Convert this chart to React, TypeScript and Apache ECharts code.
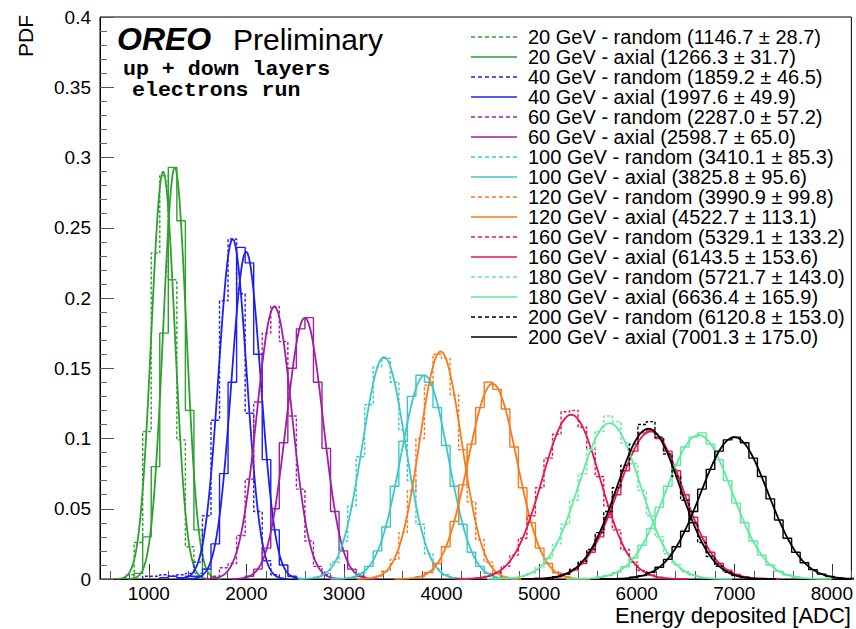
import { useEffect, useRef } from "react";
import * as echarts from "echarts";

// ---- axis / binning definition ----
const X_MIN = 500;
const X_MAX = 8200;
const BIN_WIDTH = 87.5;
const xTickValues = [1000, 2000, 3000, 4000, 5000, 6000, 7000, 8000];
const xMinorTickValues: number[] = [];
for (let v = 600; v <= 8200; v += 200) xMinorTickValues.push(v);

// ---- legend ----
const legendLabels = [
  "20 GeV - random (1146.7 ± 28.7)",
  "20 GeV - axial (1266.3 ± 31.7)",
  "40 GeV - random (1859.2 ± 46.5)",
  "40 GeV - axial (1997.6 ± 49.9)",
  "60 GeV - random (2287.0 ± 57.2)",
  "60 GeV - axial (2598.7 ± 65.0)",
  "100 GeV - random (3410.1 ± 85.3)",
  "100 GeV - axial (3825.8 ± 95.6)",
  "120 GeV - random (3990.9 ± 99.8)",
  "120 GeV - axial (4522.7 ± 113.1)",
  "160 GeV - random (5329.1 ± 133.2)",
  "160 GeV - axial (6143.5 ± 153.6)",
  "180 GeV - random (5721.7 ± 143.0)",
  "180 GeV - axial (6636.4 ± 165.9)",
  "200 GeV - random (6120.8 ± 153.0)",
  "200 GeV - axial (7001.3 ± 175.0)",
];
const colors = [
  "#2ea02e", "#2ea02e",
  "#1f1fef", "#1f1fef",
  "#a01ea4", "#a01ea4",
  "#3ec6c8", "#3ec6c8",
  "#f77a1c", "#f77a1c",
  "#e3174f", "#e3174f",
  "#5fea9c", "#5fea9c",
  "#000000", "#000000",
];
const dashed = [true, false, true, false, true, false, true, false, true, false, true, false, true, false, true, false];

// ---- histogram contents (PDF per bin), first bin index of each ----
const firstBin = [3, 4, 5, 7, 13, 17, 25, 29, 32, 37, 44, 53, 48, 58, 53, 62];
const h20Random = [0.003, 0.026, 0.105, 0.232, 0.287, 0.213, 0.099, 0.023, 0.004];
const h20Axial = [0.004, 0.03, 0.08, 0.175, 0.293, 0.255, 0.12, 0.035, 0.007, 0.001];
const h40Random = [0.002, 0.002, 0.003, 0.002, 0.003, 0.004, 0.012, 0.045, 0.113, 0.198, 0.242, 0.203, 0.118, 0.048, 0.013, 0.003];
const h40Axial = [0.001, 0.002, 0.001, 0.002, 0.002, 0.007, 0.025, 0.075, 0.14, 0.236, 0.225, 0.16, 0.085, 0.035, 0.01, 0.002];
const h60Random = [0.002, 0.008, 0.011, 0.031, 0.071, 0.126, 0.175, 0.194, 0.169, 0.116, 0.064, 0.027, 0.009, 0.003];
const h60Axial = [0.002, 0.007, 0.022, 0.05, 0.097, 0.15, 0.178, 0.186, 0.14, 0.093, 0.048, 0.02, 0.007, 0.002];
const h100Random = [0.0015, 0.004, 0.012, 0.027, 0.052, 0.087, 0.124, 0.151, 0.157, 0.14, 0.106, 0.07, 0.039, 0.018, 0.007, 0.003, 0.001];
const h100Axial = [0.001, 0.004, 0.009, 0.02, 0.037, 0.066, 0.098, 0.13, 0.145, 0.14, 0.122, 0.095, 0.066, 0.039, 0.019, 0.009, 0.004, 0.001];
const h120Random = [0.002, 0.0055, 0.014, 0.033, 0.063, 0.1, 0.138, 0.16, 0.157, 0.131, 0.092, 0.055, 0.028, 0.012, 0.0044, 0.0013];
const h120Axial = [0.0017, 0.0046, 0.011, 0.023, 0.041, 0.067, 0.096, 0.122, 0.14, 0.135, 0.121, 0.094, 0.065, 0.04, 0.022, 0.011, 0.0045, 0.0017];
const h160Random = [0.0008, 0.002, 0.0045, 0.009, 0.017, 0.029, 0.045, 0.065, 0.086, 0.103, 0.119, 0.12, 0.108, 0.093, 0.073, 0.052, 0.035, 0.021, 0.012, 0.006, 0.0028, 0.0012];
const h160Axial = [0.0016, 0.0033, 0.0063, 0.011, 0.019, 0.03, 0.044, 0.06, 0.077, 0.091, 0.104, 0.106, 0.1, 0.091, 0.077, 0.06, 0.044, 0.03, 0.019, 0.011, 0.0063, 0.0033, 0.0016];
const h180Random = [0.0009, 0.002, 0.0042, 0.0082, 0.015, 0.025, 0.039, 0.056, 0.075, 0.092, 0.105, 0.116, 0.112, 0.097, 0.082, 0.063, 0.045, 0.03, 0.018, 0.0103, 0.0053, 0.0026, 0.0012];
const h180Axial = [0.0012, 0.0025, 0.0047, 0.0087, 0.015, 0.024, 0.036, 0.051, 0.066, 0.081, 0.094, 0.101, 0.104, 0.096, 0.085, 0.07, 0.054, 0.04, 0.027, 0.017, 0.01, 0.0056, 0.0029, 0.0014];
const h200Random = [0.0017, 0.0035, 0.007, 0.0125, 0.021, 0.033, 0.048, 0.065, 0.081, 0.096, 0.11, 0.112, 0.101, 0.089, 0.073, 0.056, 0.04, 0.026, 0.016, 0.0091, 0.0048, 0.0024, 0.0011];
const h200Axial = [0.0012, 0.0024, 0.0047, 0.0084, 0.014, 0.023, 0.034, 0.048, 0.064, 0.078, 0.091, 0.099, 0.101, 0.097, 0.086, 0.073, 0.057, 0.042, 0.029, 0.019, 0.0116, 0.0067, 0.0035, 0.0018, 0.0008];
const histograms = [
  h20Random, h20Axial, h40Random, h40Axial, h60Random, h60Axial, h100Random, h100Axial,
  h120Random, h120Axial, h160Random, h160Axial, h180Random, h180Axial, h200Random, h200Axial,
];

// ---- gaussian fit parameters (mean from legend, sigma and peak) ----
const fitMean = [1146.7, 1266.3, 1859.2, 1997.6, 2287.0, 2598.7, 3410.1, 3825.8, 3990.9, 4522.7, 5329.1, 6143.5, 5721.7, 6636.4, 6120.8, 7001.3];
const fitSigma = [120, 119, 144, 150, 180, 188, 221, 241, 215, 251, 298, 332, 314, 340, 326, 345];
const fitPeak = [0.29, 0.293, 0.242, 0.233, 0.194, 0.186, 0.158, 0.145, 0.162, 0.139, 0.117, 0.105, 0.111, 0.1025, 0.107, 0.101];

const FONT = "'Liberation Sans', Arial, Helvetica, sans-serif";
const MONO = "'Liberation Mono', 'Courier New', monospace";

function histPoints(vals: number[], k0: number): number[][] {
  const pts: number[][] = [[X_MIN + k0 * BIN_WIDTH, 0]];
  vals.forEach((v, j) => {
    const lo = X_MIN + (k0 + j) * BIN_WIDTH;
    pts.push([lo, v], [lo + BIN_WIDTH, v]);
  });
  pts.push([X_MIN + (k0 + vals.length) * BIN_WIDTH, 0]);
  return pts;
}

function fitPoints(mean: number, sigma: number, peak: number): number[][] {
  const pts: number[][] = [];
  for (let i = -40; i <= 40; i++) {
    const x = mean + (i / 10) * sigma;
    const z = (x - mean) / sigma;
    pts.push([x, peak * Math.exp(-0.5 * z * z)]);
  }
  return pts;
}

export default function App() {
  const ref = useRef<HTMLDivElement>(null);
  useEffect(() => {
    if (!ref.current) return;
    const chart = echarts.init(ref.current, undefined, { renderer: "svg" });
    const series: any[] = [];
    histograms.forEach((vals, i) => {
      series.push({
        type: "line",
        name: legendLabels[i],
        data: histPoints(vals, firstBin[i]),
        symbol: "none",
        silent: true,
        z: 2,
        lineStyle: { color: colors[i], width: 1.4, type: dashed[i] ? [3, 2] : "solid" },
      });
      series.push({
        type: "line",
        name: legendLabels[i] + " fit",
        data: fitPoints(fitMean[i], fitSigma[i], fitPeak[i]),
        symbol: "none",
        silent: true,
        z: 2,
        lineStyle: { color: colors[i], width: 1.8 },
      });
    });

    const graphics: any[] = [
      {
        type: "text",
        x: 25,
        y: 15,
        rotation: Math.PI / 2,
        style: { text: "PDF", font: `21px ${FONT}`, fill: "#000", align: "right", verticalAlign: "middle" },
      },
      {
        type: "text",
        x: 117,
        y: 39,
        style: { text: "OREO", font: `italic bold 32px ${FONT}`, fill: "#000", align: "left", verticalAlign: "middle" },
      },
      {
        type: "text",
        x: 233,
        y: 39,
        style: { text: "Preliminary", font: `30px ${FONT}`, fill: "#000", align: "left", verticalAlign: "middle" },
      },
      {
        type: "text",
        x: 123,
        y: 70,
        scaleX: 1.08,
        style: { text: "up + down layers", font: `bold 20px ${MONO}`, fill: "#000", align: "left", verticalAlign: "middle" },
      },
      {
        type: "text",
        x: 132,
        y: 91,
        scaleX: 1.08,
        style: { text: "electrons run", font: `bold 20px ${MONO}`, fill: "#000", align: "left", verticalAlign: "middle" },
      },
      {
        type: "text",
        x: 851,
        y: 615,
        style: { text: "Energy deposited [ADC]", font: `22px ${FONT}`, fill: "#000", align: "right", verticalAlign: "middle" },
      },
    ];
    legendLabels.forEach((label, i) => {
      const y = 37 + i * 20;
      graphics.push({
        type: "line",
        shape: { x1: 471, y1: y, x2: 517, y2: y },
        style: { stroke: colors[i], lineWidth: 1.6, lineDash: dashed[i] ? [4, 3] : null },
      });
      graphics.push({
        type: "text",
        x: 528,
        y,
        style: { text: label, font: `20px ${FONT}`, fill: "#000", align: "left", verticalAlign: "middle" },
      });
    });

    chart.setOption({
      animation: false,
      grid: {
        left: 100,
        right: 4,
        top: 17,
        bottom: 50,
        show: true,
        borderColor: "#000",
        borderWidth: 1,
        backgroundColor: "transparent",
      },
      xAxis: [
        {
          type: "value",
          min: X_MIN,
          max: X_MAX,
          axisLine: { show: true, onZero: false, lineStyle: { color: "#000", width: 1 } },
          axisTick: { show: true, inside: true, length: 15, customValues: xTickValues, lineStyle: { color: "#333" } },
          axisLabel: {
            show: true,
            customValues: xTickValues,
            fontSize: 19,
            fontFamily: FONT,
            color: "#000",
            margin: 5,
            formatter: (v: number) => String(v),
          },
          splitLine: { show: false },
        },
        {
          type: "value",
          min: X_MIN,
          max: X_MAX,
          position: "bottom",
          axisLine: { show: false },
          axisTick: { show: true, inside: true, length: 8, customValues: xMinorTickValues, lineStyle: { color: "#555" } },
          axisLabel: { show: false },
          splitLine: { show: false },
        },
      ],
      yAxis: {
        type: "value",
        min: 0,
        max: 0.4,
        interval: 0.05,
        axisLine: { show: true, lineStyle: { color: "#000", width: 1 } },
        axisTick: { show: true, inside: true, length: 14, lineStyle: { color: "#555" } },
        minorTick: { show: true, splitNumber: 5, length: 7, lineStyle: { color: "#666" } },
        axisLabel: { fontSize: 19, fontFamily: FONT, color: "#000", margin: 9 },
        splitLine: { show: false },
        minorSplitLine: { show: false },
      },
      series,
      graphic: graphics,
    });
    return () => chart.dispose();
  }, []);
  return <div ref={ref} style={{ position: "absolute", left: 0, top: 0, width: 856, height: 629, background: "#fff" }} />;
}
